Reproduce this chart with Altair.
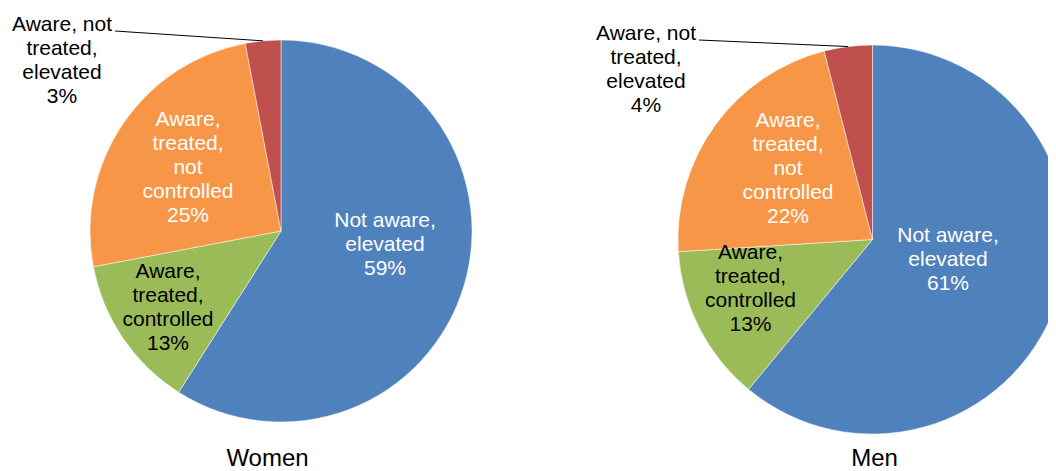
import math
import altair as alt
import pandas as pd

# ---- data ----
categories = ["Not aware, elevated", "Aware, treated, controlled",
              "Aware, treated, not controlled", "Aware, not treated, elevated"]
label_text = ["Not aware,\nelevated", "Aware,\ntreated,\ncontrolled",
              "Aware,\ntreated,\nnot\ncontrolled", "Aware, not\ntreated,\nelevated"]
women = [59, 13, 25, 3]
men = [61, 13, 22, 4]
pie_titles = ["Women", "Men"]

# ---- style ----
colors = ["#4F81BD", "#9BBB59", "#F79646", "#C0504D"]
text_colors = ["white", "black", "white", "black"]
FONT = "Liberation Sans"
LINE_H = 24
W, H = 1040, 463

# pie geometry (chart coords)
pies = [
    dict(cx=273, cy=223, R=191, title_x=259.5, title_y=457.5,
         offsets=[(104, 14), (-113, 77), (-93, -63), (-219, -170)]),
    dict(cx=864.5, cy=231.5, R=194.5, title_x=866.5, title_y=457.5,
         offsets=[(75.5, 20.5), (-122, 49.5), (-84.5, -71), (-226.5, -169.5)]),
]


def build(values, geo):
    total = sum(values)
    rows = []
    acc = 0.0
    for i, v in enumerate(values):
        t0 = acc / total * 2 * math.pi
        acc += v
        t1 = acc / total * 2 * math.pi
        label = f"{label_text[i]}\n{v}%"
        n = label.count("\n") + 1
        dx, dy = geo["offsets"][i]
        dy -= (n - 1) / 2 * LINE_H  # anchor is first line
        lr = math.hypot(dx, dy)
        lt = math.atan2(dx, -dy)
        rows.append(dict(category=categories[i], value=v, t0=t0, t1=t1,
                         tm=(t0 + t1) / 2, label=label,
                         lt=lt, lr=lr, tc=text_colors[i]))
    return pd.DataFrame(rows)


layers = []
for vals, geo, ttl in zip([women, men], pies, pie_titles):
    df = build(vals, geo)
    cx, cy, R = geo["cx"], geo["cy"], geo["R"]
    arc = alt.Chart(df).mark_arc(stroke="white", strokeWidth=0.5).encode(
        theta=alt.Theta("t0:Q", scale=None),
        theta2="t1:Q",
        color=alt.Color("category:N", scale=alt.Scale(domain=categories, range=colors), legend=None),
        x=alt.value(cx), y=alt.value(cy), radius=alt.value(R),
    )
    txt = alt.Chart(df).mark_text(lineBreak="\n", font=FONT, fontSize=21, lineHeight=LINE_H,
                                  align="center", baseline="middle").encode(
        text="label:N",
        theta=alt.Theta("lt:Q", scale=None),
        radius=alt.Radius("lr:Q", scale=None),
        color=alt.Color("tc:N", scale=None),
        x=alt.value(cx), y=alt.value(cy),
    )
    # leader line for the small outside slice
    small = df.iloc[[3]].copy()
    dx, dy = geo["offsets"][3]
    small["x0"] = cx + dx + 53
    small["y0"] = cy + dy - 30
    small["x1"] = cx + R * small["tm"].apply(math.sin)
    small["y1"] = cy - R * small["tm"].apply(math.cos)
    leader = alt.Chart(small).mark_rule(color="black", strokeWidth=1).encode(
        x=alt.X("x0:Q", scale=None), y=alt.Y("y0:Q", scale=None),
        x2="x1:Q", y2="y1:Q",
    )
    tdf = pd.DataFrame({"t": [ttl]})
    title = alt.Chart(tdf).mark_text(font=FONT, fontSize=24, align="center",
                                     baseline="alphabetic", color="black").encode(
        text="t:N", x=alt.value(geo["title_x"]), y=alt.value(geo["title_y"]),
    )
    layers += [arc, leader, txt, title]

chart = alt.layer(*layers).properties(
    width=W, height=H, autosize=alt.AutoSizeParams(type="none"), padding=0,
).configure_view(stroke=None)

chart.save("out.html", embed_options={"renderer": "svg", "actions": False})
